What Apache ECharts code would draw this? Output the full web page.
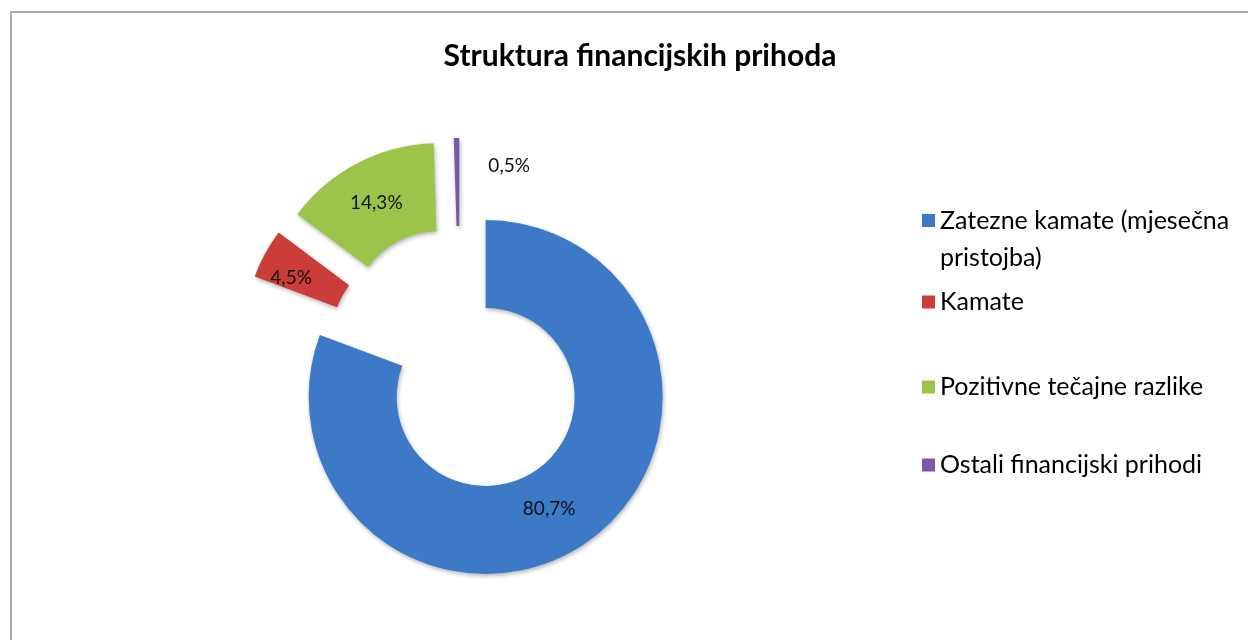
<!DOCTYPE html>
<html>
<head>
<meta charset="utf-8">
<script src="https://cdn.jsdelivr.net/npm/echarts@6/dist/echarts.min.js"></script>
<style>
  html, body { margin: 0; padding: 0; background: #fff; }
  #main { width: 1248px; height: 640px; }
</style>
</head>
<body>
<div id="main"></div>
<script>
const categories = [
  "Zatezne kamate (mjesečna pristojba)",
  "Kamate",
  "Pozitivne tečajne razlike",
  "Ostali financijski prihodi"
];
const shares = [80.7, 4.5, 14.3, 0.5];
const colors = ["#3c7ac8", "#cc3d3a", "#9dc44a", "#7a5aa6"];
const legendTops = [202, 287, 372, 450];

const chart = echarts.init(document.getElementById("main"));

// square icon sitting at the top of a taller box, so it lines up with the first text line
const topSquare = "path://M0,0L13,0L13,13L0,13Z M6,49.9L6.1,49.9L6.1,50L6,50Z";

const legends = categories.map((name, i) => ({
  orient: "vertical",
  left: 922,
  top: legendTops[i],
  padding: 0,
  data: [{ name: name, icon: i === 0 ? topSquare : "rect" }],
  itemWidth: 13,
  itemHeight: i === 0 ? 50 : 13,
  selectedMode: false,
  formatter: (n) => n === categories[0] ? "Zatezne kamate (mjesečna\npristojba)" : n,
  textStyle: {
    fontFamily: "Lato",
    fontSize: 25,
    color: "#000",
    lineHeight: i === 0 ? 37 : 30
  }
}));

// nudges for the slice labels, px
const labelShift = [[-14, 0], [-10, 5], [0, 3], [52, -13]];

const option = {
  animation: false,
  title: {
    text: "Struktura financijskih prihoda",
    left: 635,
    top: 36,
    textAlign: "center",
    textStyle: {
      fontFamily: "Lato",
      fontWeight: "bold",
      fontSize: 30,
      color: "#000"
    }
  },
  legend: legends,
  graphic: [{
    type: "rect",
    shape: { x: 11, y: 12, width: 1400, height: 800 },
    style: { fill: "none", stroke: "#ababab", lineWidth: 2 },
    silent: true
  }],
  series: [{
    type: "pie",
    center: [460, 360],
    radius: [89, 177],
    startAngle: 90,
    clockwise: true,
    selectedMode: "multiple",
    selectedOffset: 45,
    emphasis: { disabled: true },
    label: {
      position: "inside",
      fontFamily: "Lato",
      fontSize: 19,
      color: "#111",
      formatter: (p) => p.value.toFixed(1).replace(".", ",") + "%"
    },
    labelLine: { show: false },
    labelLayout: (p) => ({ dx: labelShift[p.dataIndex][0], dy: labelShift[p.dataIndex][1] }),
    itemStyle: {
      borderWidth: 0,
      shadowBlur: 4,
      shadowOffsetX: 1,
      shadowOffsetY: 2,
      shadowColor: "rgba(0,0,0,0.3)"
    },
    data: categories.map((name, i) => ({
      name: name,
      value: shares[i],
      selected: true,
      itemStyle: { color: colors[i] }
    }))
  }]
};

chart.setOption(option);
</script>
</body>
</html>
